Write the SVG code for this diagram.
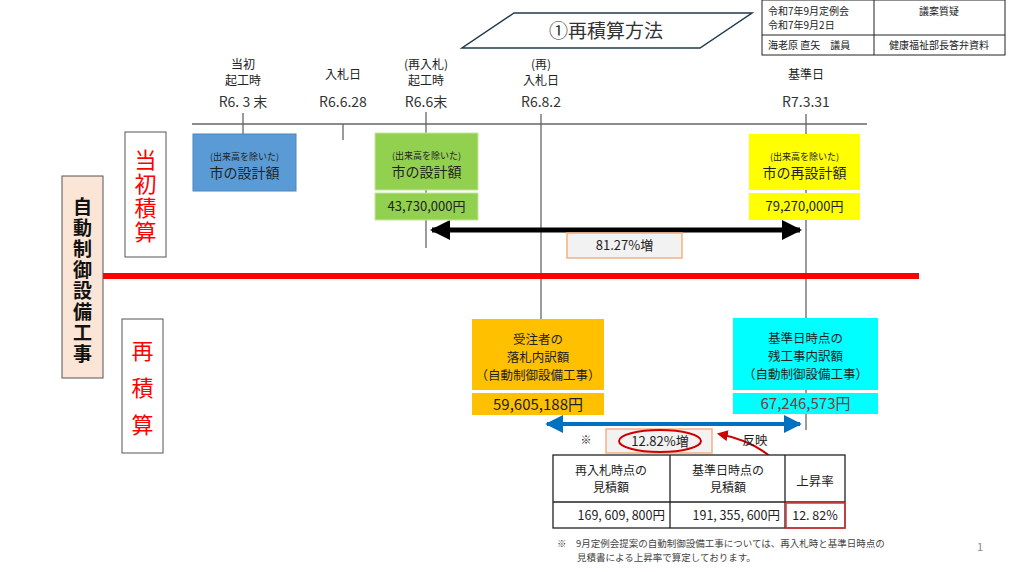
<svg xmlns="http://www.w3.org/2000/svg" width="1024" height="572" viewBox="0 0 1024 572">
<style>
text{font-family:"Noto Sans CJK JP","Noto Sans",sans-serif;fill:#222;}
.c{text-anchor:middle;}
.lbl{font-size:12px;}
.date{font-size:14px;fill:#333;}
.tl{stroke:#666;stroke-width:1.3;fill:none;}
.sm{font-size:9px;}
.md{font-size:14px;}
.amt{font-size:13px;}
.hd{font-size:10px;}
.vert{writing-mode:vertical-rl;text-anchor:middle;}
.vr{font-size:22px;fill:#ff0000;}
.vb{font-size:19px;font-weight:bold;fill:#111;}
.tb{font-size:12.5px;}
.th{font-size:12px;}
.pct{fill:#f2f2f2;stroke:#f4b183;stroke-width:1.5;}
</style>
<defs>
<marker id="ab" viewBox="0 0 10 10" refX="9" refY="5" markerWidth="4" markerHeight="4" orient="auto-start-reverse" markerUnits="strokeWidth"><path d="M0,0 L10,5 L0,10 z" fill="#000"/></marker>
<marker id="au" viewBox="0 0 10 10" refX="9" refY="5" markerWidth="4.5" markerHeight="4.5" orient="auto-start-reverse" markerUnits="strokeWidth"><path d="M0,0 L10,5 L0,10 z" fill="#0070c0"/></marker>
<marker id="ar" viewBox="0 0 10 10" refX="8" refY="5" markerWidth="5.5" markerHeight="5.5" orient="auto" markerUnits="strokeWidth"><path d="M0,0 L10,5 L0,10 z" fill="#d00000"/></marker>
</defs>
<rect width="1024" height="572" fill="#fff"/>

<g id="title">
<polygon points="514,13 752,13 700,48 462,48" fill="#fff" stroke="#1f3b4d" stroke-width="1.5"/>
<text x="606" y="38" class="c" style="font-size:19px;fill:#333">①再積算方法</text>
</g>

<g id="header">
<rect x="762" y="0" width="243" height="55" fill="#fff" stroke="#222" stroke-width="1"/>
<line x1="762" y1="35" x2="1005" y2="35" stroke="#222"/>
<line x1="874" y1="0" x2="874" y2="55" stroke="#222"/>
<text x="768" y="15" class="hd">令和7年9月定例会</text>
<text x="768" y="29" class="hd">令和7年9月2日</text>
<text x="939" y="15" class="hd c">議案質疑</text>
<text x="768" y="49" class="hd">海老原 直矢　議員</text>
<text x="939" y="49" class="hd c">健康福祉部長答弁資料</text>
</g>

<g id="connectors">
<line class="tl" x1="192" y1="124" x2="867" y2="124"/>
<line class="tl" x1="243" y1="113" x2="243" y2="134"/>
<line class="tl" x1="343" y1="124" x2="343" y2="140"/>
<line class="tl" x1="426" y1="112" x2="426" y2="248"/>
<line class="tl" x1="541" y1="114" x2="541" y2="320"/>
<line class="tl" x1="806" y1="114" x2="806" y2="430"/>
<line x1="432" y1="230" x2="800" y2="230" stroke="#000" stroke-width="5" marker-start="url(#ab)" marker-end="url(#ab)"/>
<line x1="103" y1="276" x2="919" y2="276" stroke="#ff0000" stroke-width="6"/>
<line x1="547" y1="424" x2="800" y2="424" stroke="#0070c0" stroke-width="4" marker-start="url(#au)" marker-end="url(#au)"/>
<path d="M796,501 C790,468 765,443 719,434" fill="none" stroke="#d00000" stroke-width="2" marker-end="url(#ar)"/>
</g>

<g id="timeline-labels">
<text x="243" y="69" class="lbl c">当初</text>
<text x="243" y="85" class="lbl c">起工時</text>
<text x="243" y="107" class="date c">R6. 3 末</text>
<text x="343" y="79" class="lbl c">入札日</text>
<text x="343" y="107" class="date c">R6.6.28</text>
<text x="426" y="69" class="lbl c">(再入札)</text>
<text x="426" y="85" class="lbl c">起工時</text>
<text x="426" y="107" class="date c">R6.6末</text>
<text x="541" y="69" class="lbl c">(再)</text>
<text x="541" y="85" class="lbl c">入札日</text>
<text x="541" y="107" class="date c">R6.8.2</text>
<text x="806" y="79" class="lbl c">基準日</text>
<text x="806" y="107" class="date c">R7.3.31</text>
</g>

<g id="left-label">
<rect x="62" y="176" width="41" height="202" fill="#fbe5d6" stroke="#555" stroke-width="1"/>
<text x="82.5" y="281" class="vert vb" letter-spacing="2">自動制御設備工事</text>
</g>

<g id="initial-label">
<rect x="125" y="132" width="41" height="125" fill="#fff" stroke="#555" stroke-width="1"/>
<text x="145.5" y="197" class="vert vr" letter-spacing="2">当初積算</text>
</g>

<g id="re-label">
<rect x="122" y="319" width="41" height="134" fill="#fff" stroke="#555" stroke-width="1"/>
<text x="142.5" y="395" class="vert vr" letter-spacing="15">再積算</text>
</g>

<g id="blue-box">
<rect x="193" y="134" width="103" height="57" fill="#5b9bd5" stroke="#4a86bf" stroke-width="1"/>
<text x="244.5" y="160" class="sm c">(出来高を除いた)</text>
<text x="244.5" y="178" class="md c">市の設計額</text>
</g>

<g id="green-box">
<rect x="375" y="133" width="103" height="57" fill="#92d050" stroke="#c6e6a0" stroke-width="1"/>
<text x="426.5" y="159" class="sm c">(出来高を除いた)</text>
<text x="426.5" y="177" class="md c">市の設計額</text>
<rect x="375" y="193" width="103" height="27" fill="#92d050" stroke="#c6e6a0" stroke-width="1"/>
<text x="426.5" y="211" class="amt c">43,730,000円</text>
</g>

<g id="yellow-box">
<rect x="749" y="134" width="111" height="56" fill="#ffff00"/>
<text x="804.5" y="160" class="sm c">(出来高を除いた)</text>
<text x="804.5" y="178" class="md c">市の再設計額</text>
<rect x="749" y="193" width="111" height="27" fill="#ffff00"/>
<text x="804.5" y="211" class="amt c">79,270,000円</text>
</g>

<g id="pct-8127">
<rect x="567" y="233" width="115" height="25" class="pct"/>
<text x="624.5" y="250" class="amt c">81.27%増</text>
</g>

<g id="orange-box">
<rect x="472" y="319" width="132" height="71" fill="#ffc000"/>
<text x="538" y="344" class="tb c">受注者の</text>
<text x="538" y="362" class="tb c">落札内訳額</text>
<text x="538" y="380" class="tb c">（自動制御設備工事）</text>
<rect x="472" y="393" width="132" height="22" fill="#ffc000"/>
<text x="538" y="410" class="c" style="font-size:15px">59,605,188円</text>
</g>

<g id="cyan-box">
<rect x="733" y="318" width="145" height="72" fill="#00ffff"/>
<text x="805.5" y="343" class="tb c">基準日時点の</text>
<text x="805.5" y="361" class="tb c">残工事内訳額</text>
<text x="805.5" y="379" class="tb c">（自動制御設備工事）</text>
<rect x="733" y="393" width="145" height="21" fill="#00ffff"/>
<text x="805.5" y="409" class="c" style="font-size:15px;fill:#7f3a3a">67,246,573円</text>
</g>

<g id="pct-1282">
<text x="586" y="444" class="c" style="font-size:11px">※</text>
<rect x="606" y="429" width="106" height="24" class="pct"/>
<ellipse cx="660" cy="441" rx="41" ry="11" fill="none" stroke="#d00000" stroke-width="2"/>
<text x="660" y="446" class="amt c">12.82%増</text>
<text x="755" y="445" class="tb c">反映</text>
</g>

<g id="table">
<rect x="553" y="455" width="292" height="73" fill="#fff" stroke="#222" stroke-width="1.3"/>
<line x1="553" y1="502" x2="845" y2="502" stroke="#222" stroke-width="1.3"/>
<line x1="670" y1="455" x2="670" y2="528" stroke="#222" stroke-width="1.3"/>
<line x1="785" y1="455" x2="785" y2="528" stroke="#222" stroke-width="1.3"/>
<text x="611" y="475" class="th c">再入札時点の</text>
<text x="611" y="492" class="th c">見積額</text>
<text x="728" y="475" class="th c">基準日時点の</text>
<text x="728" y="492" class="th c">見積額</text>
<text x="815" y="486" class="tb c">上昇率</text>
<text x="665" y="520" class="tb" text-anchor="end">169, 609, 800円</text>
<text x="780" y="520" class="tb" text-anchor="end">191, 355, 600円</text>
<text x="815" y="520" class="tb c">12. 82%</text>
<rect x="786" y="503" width="59" height="25" fill="none" stroke="#e03030" stroke-width="1.5"/>
</g>

<g id="footnote">
<text x="557" y="547" style="font-size:9.5px;fill:#444">※　9月定例会提案の自動制御設備工事については、再入札時と基準日時点の</text>
<text x="577" y="561" style="font-size:9.5px;fill:#444">見積書による上昇率で算定しております。</text>
<text x="977" y="551" style="font-size:11px;fill:#888">1</text>
</g>
</svg>
